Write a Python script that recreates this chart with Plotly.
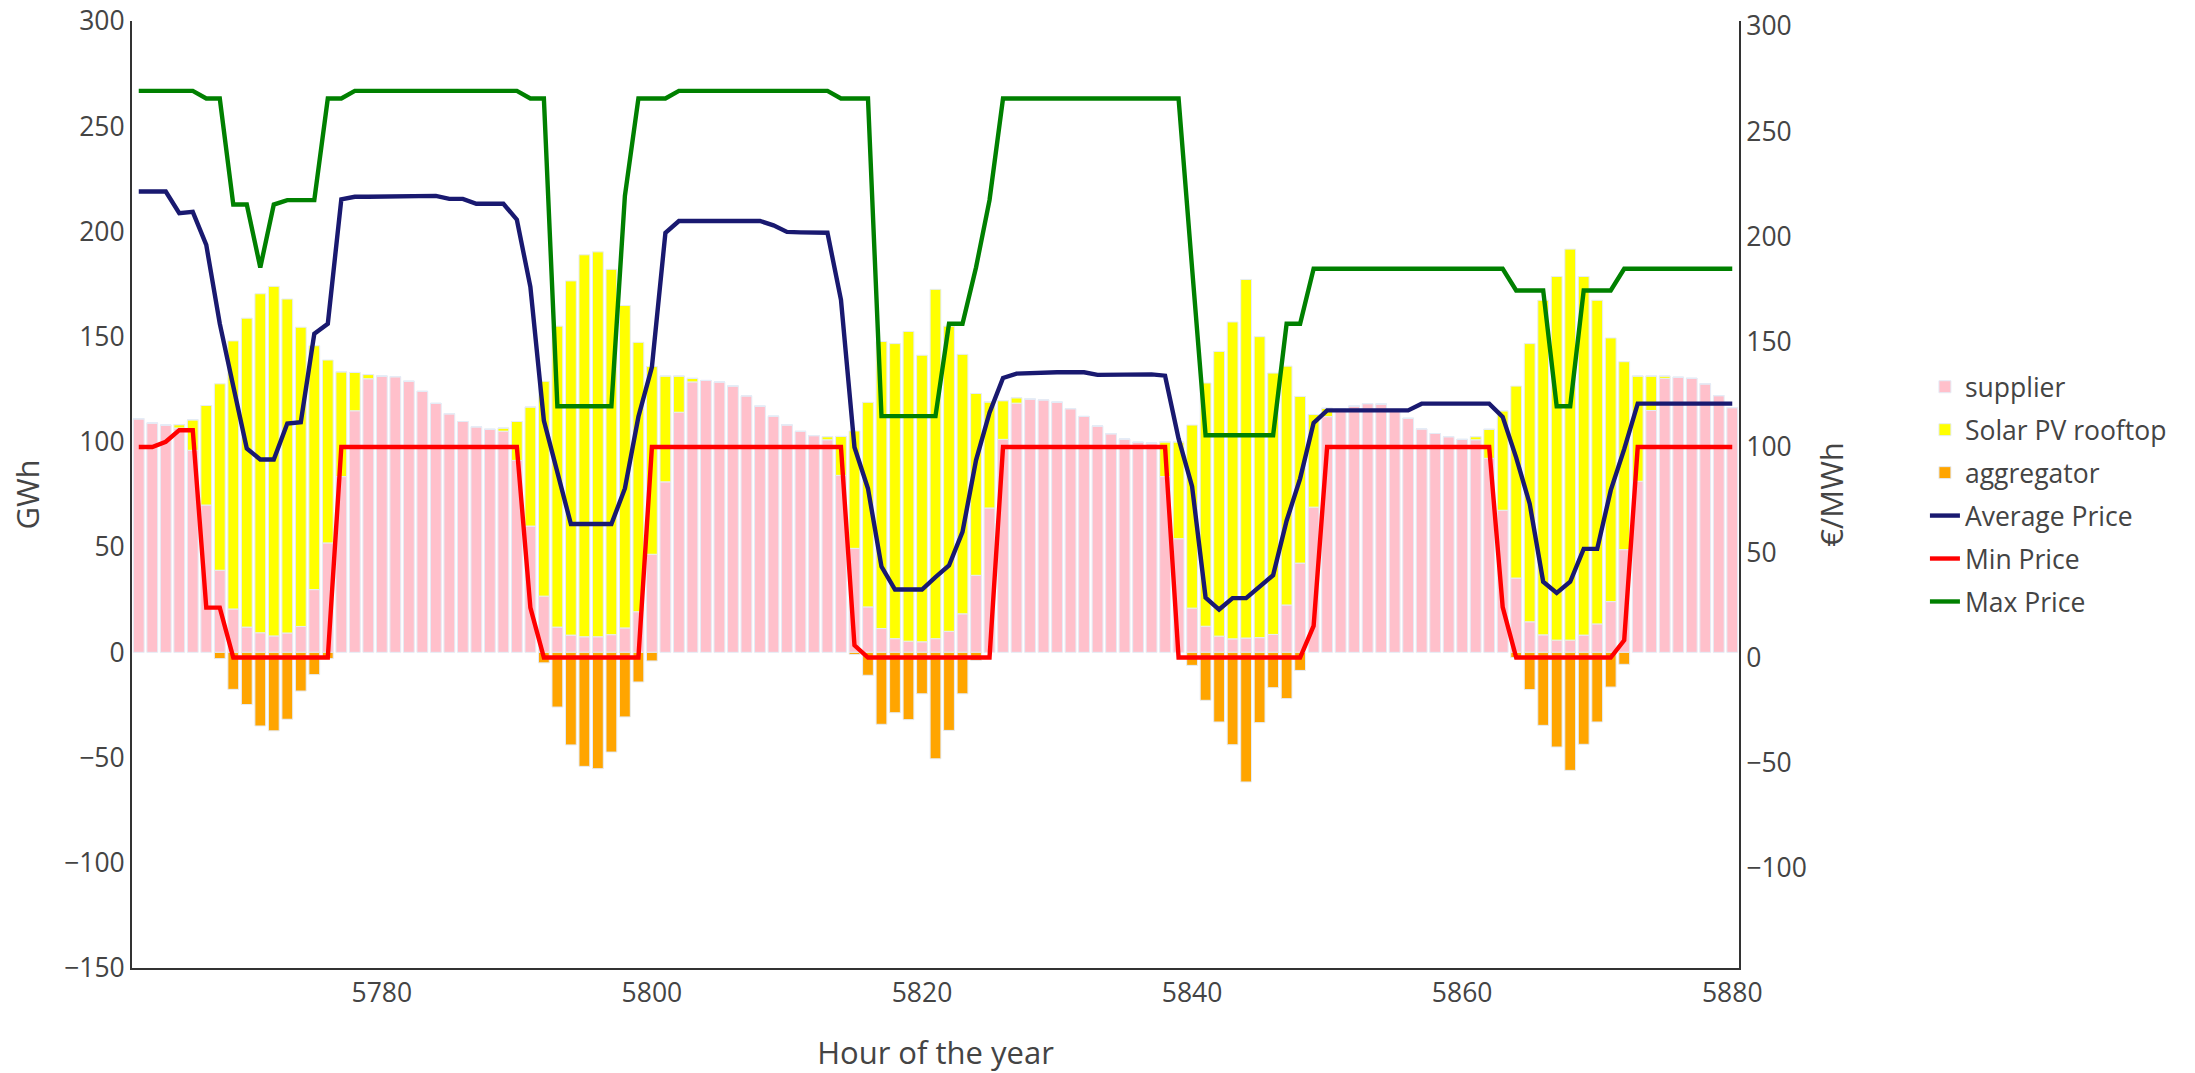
import plotly.graph_objects as go

hours = list(range(5762, 5881))

supplier = [
    111, 109, 108, 106.6, 96, 70, 39, 20.6, 12, 9.3,
    7.8, 9.2, 12.3, 29.8, 52, 83.5, 114.8, 130, 131.3, 131,
    128.8, 124, 118.3, 113.4, 109.7, 107.2, 106, 105.1, 91.2, 60,
    26.7, 12, 8.2, 7.4, 7.4, 8.4, 11.6, 19.3, 46.6, 81,
    114.1, 128.5, 129.2, 128.5, 126.6, 121.9, 117, 112.2, 108.1, 105,
    103, 101, 84.1, 49.4, 21.6, 11.3, 6.5, 5.3, 5, 6.5,
    10, 18.3, 36.6, 68.6, 101.2, 118.4, 120.4, 120, 118.9, 115.8,
    112.1, 107.6, 103.9, 101.4, 99.8, 99.4, 83.5, 54, 21, 12.4,
    7.7, 6.4, 6.8, 7, 8.5, 22.5, 42.4, 69, 112, 115.5,
    117, 118.2, 118, 115, 111.2, 106.2, 104, 102.5, 101.2, 101,
    92.2, 67.5, 35.3, 14.5, 8.3, 5.8, 5.8, 8.2, 13.5, 24.1,
    48.8, 81.3, 114.9, 130.2, 130.7, 130.2, 127.6, 122, 116.3,
]

solar_pv = [
    0, 0, 0, 1.6, 14.5, 47.3, 88.6, 127.4, 146.8, 161.1,
    166.1, 158.7, 142.2, 115.9, 86.9, 49.8, 18.2, 2, 0, 0,
    0, 0, 0, 0, 0, 0, 0, 1.5, 18.5, 56.6,
    102.1, 143, 168.3, 181.5, 182.9, 173.6, 153.2, 128, 89.2, 50.3,
    17.2, 1.7, 0, 0, 0, 0, 0, 0, 0, 0,
    0, 1.5, 18.5, 55.8, 97.2, 136.4, 140.2, 147.2, 136.2, 166,
    145, 123.3, 86.4, 50.4, 18.4, 2.6, 0, 0, 0, 0,
    0, 0, 0, 0, 0, 0, 16.5, 46, 87, 115.6,
    135.3, 150.6, 170.4, 143, 124.2, 113.5, 79.2, 44, 4, 0,
    0, 0, 0, 0, 0, 0, 0, 0, 0, 1.5,
    13.8, 47.3, 91.2, 132.2, 159, 172.8, 185.8, 170.4, 153.8, 125.3,
    89.3, 50, 16.4, 1.1, 0, 0, 0, 0, 0,
]

aggregator = [
    0, 0, 0, 0, 0, 0, -3, -17.6, -24.8, -35,
    -37.3, -31.8, -18.4, -10.6, -3, 0, 0, 0, 0, 0,
    0, 0, 0, 0, 0, 0, 0, 0, 0, 0,
    -5, -26, -44, -54.2, -55.3, -47.4, -30.7, -14.1, -4.1, 0,
    0, 0, 0, 0, 0, 0, 0, 0, 0, 0,
    0, 0, 0, -1, -10.9, -34.2, -28.7, -32, -19.7, -50.6,
    -37.1, -19.7, -3.8, 0, 0, 0, 0, 0, 0, 0,
    0, 0, 0, 0, 0, 0, 0, 0, -6.2, -22.8,
    -33.1, -43.9, -61.6, -33.4, -16.8, -22, -8.6, 0, 0, 0,
    0, 0, 0, 0, 0, 0, 0, 0, 0, 0,
    0, 0, -2.5, -17.7, -34.7, -45, -56.1, -43.7, -33.1, -16.5,
    -5.7, 0, 0, 0, 0, 0, 0, 0, 0,
]

avg_price = [
    221.4, 221.4, 221.4, 211.1, 211.7, 196, 158.6, 128.9, 99.3, 94.1,
    94.1, 111.2, 111.8, 153.8, 158.6, 217.7, 218.9, 218.9, 218.9, 218.9,
    219.3, 219.3, 219.3, 217.9, 217.9, 215.6, 215.6, 215.6, 208, 176.1,
    112.6, 87, 63.4, 63.4, 63.4, 63.4, 80.3, 114.4, 138, 201.8,
    207.4, 207.4, 207.4, 207.4, 207.4, 207.4, 207.4, 205.3, 202.2, 202,
    202, 201.8, 169.9, 99.9, 80.3, 43.2, 32.3, 32.3, 32.3, 38.2,
    43.7, 59.7, 93.7, 116.3, 132.8, 134.9, 135.2, 135.5, 135.5, 135.5,
    135.5, 134.3, 134.3, 134.3, 134.4, 134.5, 133.9, 104, 81.3, 28.5,
    22.8, 28.2, 28.2, 33.5, 39.1, 65, 85, 111.5, 117.4, 117.4,
    117.4, 117.4, 117.4, 117.4, 117.4, 120.6, 120.6, 120.6, 120.6, 120.6,
    120.6, 114.3, 95, 73.1, 36, 30.7, 36, 51.6, 51.6, 79.4,
    99, 120.6, 120.6, 120.6, 120.6, 120.6, 120.6, 120.6, 120.6,
]

min_price = [
    100, 100, 102.5, 108, 108, 23.7, 23.7, 0, 0, 0,
    0, 0, 0, 0, 0, 100, 100, 100, 100, 100,
    100, 100, 100, 100, 100, 100, 100, 100, 100, 23.7,
    0, 0, 0, 0, 0, 0, 0, 0, 100, 100,
    100, 100, 100, 100, 100, 100, 100, 100, 100, 100,
    100, 100, 100, 5.8, 0, 0, 0, 0, 0, 0,
    0, 0, 0, 0, 100, 100, 100, 100, 100, 100,
    100, 100, 100, 100, 100, 100, 100, 0, 0, 0,
    0, 0, 0, 0, 0, 0, 0, 15, 100, 100,
    100, 100, 100, 100, 100, 100, 100, 100, 100, 100,
    100, 24, 0, 0, 0, 0, 0, 0, 0, 0,
    8.2, 100, 100, 100, 100, 100, 100, 100, 100,
]

max_price = [
    269.2, 269.2, 269.2, 269.2, 269.2, 265.6, 265.6, 215.2, 215.2, 185.3,
    215.2, 217.3, 217.3, 217.3, 265.6, 265.6, 269.2, 269.2, 269.2, 269.2,
    269.2, 269.2, 269.2, 269.2, 269.2, 269.2, 269.2, 269.2, 269.2, 265.6,
    265.6, 119.4, 119.4, 119.4, 119.4, 119.4, 219.3, 265.6, 265.6, 265.6,
    269.2, 269.2, 269.2, 269.2, 269.2, 269.2, 269.2, 269.2, 269.2, 269.2,
    269.2, 269.2, 265.6, 265.6, 265.6, 114.7, 114.7, 114.7, 114.7, 114.7,
    158.6, 158.6, 185.3, 217.3, 265.6, 265.6, 265.6, 265.6, 265.6, 265.6,
    265.6, 265.6, 265.6, 265.6, 265.6, 265.6, 265.6, 265.6, 185, 105.6,
    105.6, 105.6, 105.6, 105.6, 105.6, 158.6, 158.6, 184.7, 184.7, 184.7,
    184.7, 184.7, 184.7, 184.7, 184.7, 184.7, 184.7, 184.7, 184.7, 184.7,
    184.7, 184.7, 174.4, 174.4, 174.4, 119.4, 119.4, 174.4, 174.4, 174.4,
    184.7, 184.7, 184.7, 184.7, 184.7, 184.7, 184.7, 184.7, 184.7,
]

x_ticks = [5780, 5800, 5820, 5840, 5860, 5880]
left_ticks = [-150, -100, -50, 0, 50, 100, 150, 200, 250, 300]
right_ticks = [-100, -50, 0, 50, 100, 150, 200, 250, 300]

FONT = "Open Sans"
TXT = "#444"
bar_line = dict(color="#E5ECF6", width=1)

fig = go.Figure()
fig.add_trace(go.Bar(x=hours, y=supplier, name="supplier", marker=dict(color="pink", line=bar_line), legendgroup="g1"))
fig.add_trace(go.Bar(x=hours, y=solar_pv, name="Solar PV rooftop", marker=dict(color="yellow", line=bar_line), legendgroup="g2"))
fig.add_trace(go.Bar(x=hours, y=aggregator, name="aggregator", marker=dict(color="orange", line=bar_line), legendgroup="g3"))
fig.add_trace(go.Scatter(x=hours, y=avg_price, name="Average Price", mode="lines",
                         line=dict(color="midnightblue", width=4.4), yaxis="y2", legendgroup="g4"))
fig.add_trace(go.Scatter(x=hours, y=min_price, name="Min Price", mode="lines",
                         line=dict(color="red", width=4.4), yaxis="y2", legendgroup="g5"))
fig.add_trace(go.Scatter(x=hours, y=max_price, name="Max Price", mode="lines",
                         line=dict(color="green", width=4.4), yaxis="y2", legendgroup="g6"))

axis_common = dict(showgrid=False, zeroline=False, showline=True, linecolor="#333", linewidth=2,
                   ticks="", tickfont=dict(family=FONT, size=26.5, color=TXT), automargin=False)

fig.update_layout(
    width=2195, height=1073, autosize=False,
    margin=dict(l=132, r=456, t=21, b=105, pad=0),
    paper_bgcolor="white", plot_bgcolor="white",
    font=dict(family=FONT, color=TXT, size=26.5),
    barmode="relative", bargap=0.2,
    showlegend=True,
    legend=dict(x=1.1157, xanchor="left", y=0.5, yanchor="middle",
                font=dict(family=FONT, size=26.5, color=TXT),
                traceorder="grouped", tracegroupgap=5.5, bgcolor="rgba(0,0,0,0)"),
    xaxis=dict(range=[5761.5, 5880.5], tickmode="array", tickvals=x_ticks,
               ticktext=[str(v) for v in x_ticks],
               title=dict(text="Hour of the year", font=dict(family=FONT, size=31, color=TXT), standoff=38),
               **axis_common),
    yaxis=dict(range=[-150, 300], tickmode="array", tickvals=left_ticks,
               title=dict(text="GWh", font=dict(family=FONT, size=31, color=TXT)),
               **axis_common),
    yaxis2=dict(range=[-147.5, 302.4], tickmode="array", tickvals=right_ticks,
                overlaying="y", side="right",
                title=dict(text="€/MWh", font=dict(family=FONT, size=31, color=TXT)),
                **axis_common),
)

fig.write_html("out.html")
